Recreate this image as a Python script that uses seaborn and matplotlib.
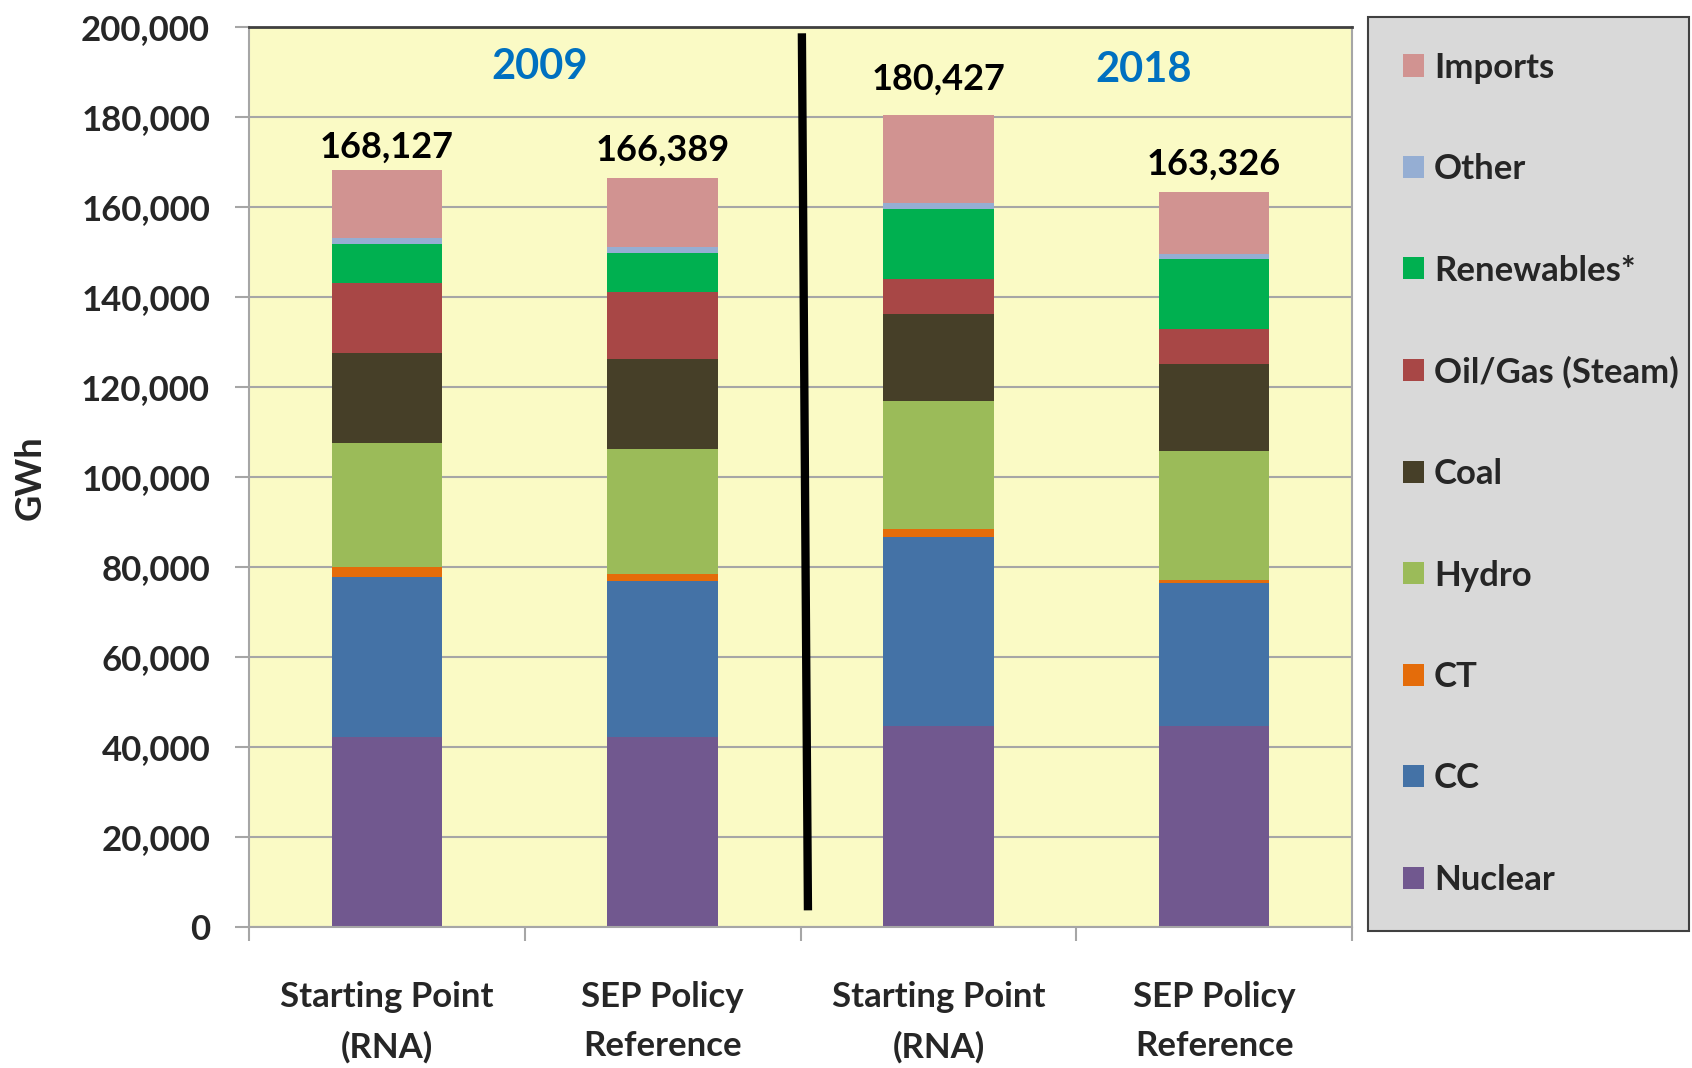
import numpy as np
import matplotlib
matplotlib.use("Agg")
import matplotlib.pyplot as plt
import seaborn as sns
from matplotlib.ticker import FuncFormatter

# ---------------- data ----------------
bar_keys = ["2009 Starting Point", "2009 SEP Policy", "2018 Starting Point", "2018 SEP Policy"]
categories = ["Starting Point\n(RNA)", "SEP Policy\nReference",
              "Starting Point\n(RNA)", "SEP Policy\nReference"]
years = ["2009", "2018"]
totals = [168127, 166389, 180427, 163326]

sources = ["Nuclear", "CC", "CT", "Hydro", "Coal", "Oil/Gas (Steam)",
           "Renewables*", "Other", "Imports"]
nuclear = [42200, 42200, 44600, 44600]
cc = [35600, 34600, 42100, 31800]
ct = [2100, 1700, 1800, 800]
hydro = [27600, 27700, 28300, 28500]
coal = [20100, 20100, 19400, 19300]
oil_gas = [15400, 14900, 7900, 7900]
renewables = [8700, 8600, 15500, 15500]
other = [1300, 1300, 1300, 1200]
imports = [15127, 15289, 19527, 13726]

series = [nuclear, cc, ct, hydro, coal, oil_gas, renewables, other, imports]
colors = ["#71588F", "#4472A6", "#E46C0A", "#9BBB59", "#463F28",
          "#A84746", "#00B050", "#95AED3", "#D19391"]

# ---------------- style ----------------
sns.set_theme(style="white")
plt.rcParams["font.family"] = ["Lato", "DejaVu Sans"]
plt.rcParams["font.weight"] = "bold"

W, H = 1692, 1068
fig = plt.figure(figsize=(W / 100, H / 100), dpi=100)
ax = fig.add_axes([249 / W, 1 - 927 / H, (1352 - 249) / W, (927 - 27) / H])
ax.set_facecolor("#FAFAC5")

bottom = np.zeros(len(bar_keys))
for name, vals, col in zip(sources, series, colors):
    sns.barplot(x=bar_keys, y=vals, order=bar_keys, color=col, saturation=1,
                width=0.4, errorbar=None, bottom=bottom, ax=ax, label=name,
                linewidth=0)
    bottom = bottom + np.array(vals)
if ax.get_legend() is not None:
    ax.get_legend().remove()

# axes
ax.set_xlim(-0.5, 3.5)
ax.set_ylim(0, 200000)
ax.set_yticks(np.arange(0, 200001, 20000))
ax.yaxis.set_major_formatter(FuncFormatter(lambda v, p: f"{int(v):,}"))
ax.yaxis.grid(True, color="#A6A6A6", lw=1.5)
ax.xaxis.grid(False)
ax.set_axisbelow(True)

ax.set_xticks([-0.5, 0.5, 1.5, 2.5, 3.5])
ax.set_xticklabels([])
ax.set_xticks(range(4), minor=True)
ax.set_xticklabels(categories, minor=True, fontsize=25, fontweight="bold",
                   linespacing=1.66, va="top")
ax.tick_params(axis="x", which="major", length=10, width=1.5, color="#A6A6A6",
               direction="out", bottom=True)
ax.tick_params(axis="x", which="minor", length=0, pad=39, bottom=True)
ax.tick_params(axis="y", which="major", length=10, width=1.5, color="#A6A6A6",
               direction="out", left=True, pad=18, labelsize=25)
for lab in ax.get_yticklabels():
    lab.set_fontweight("bold")
ax.set_xlabel("")
ax.set_ylabel("")

for side in ["left", "bottom", "right"]:
    ax.spines[side].set_color("#A6A6A6")
    ax.spines[side].set_linewidth(1.5)
ax.spines["top"].set_color("#404040")
ax.spines["top"].set_linewidth(2)

# totals
label_dy = [17, 20, 26, 20]
for i, (t, dy) in enumerate(zip(totals, label_dy)):
    ax.annotate(f"{t:,}", xy=(i, t), xytext=(0, dy), textcoords="offset points",
                ha="center", va="center", fontsize=26, fontweight="bold",
                color="black")

# year labels
ax.text(0.553, 191000, years[0], ha="center", va="center", fontsize=30,
        fontweight="bold", color="#0070C0")
ax.text(2.745, 190400, years[1], ha="center", va="center", fontsize=30,
        fontweight="bold", color="#0070C0")

# divider line
ax.plot([1.505, 1.527], [198600, 3700], color="black", lw=6,
        solid_capstyle="butt")

# y label
fig.text(30 / W, 1 - 478 / H, "GWh", rotation=90, ha="center", va="center",
         fontsize=26, fontweight="bold")

# legend
handles = list(ax.containers)[::-1]
labels = sources[::-1]
leg = fig.legend(handles, labels, loc="upper left",
                 bbox_to_anchor=(1368 / W, 1 - 17 / H, (1689 - 1368) / W, 0),
                 mode="expand", frameon=True, fancybox=False,
                 facecolor="#D9D9D9", edgecolor="#404040", framealpha=1,
                 handlelength=0.6, handleheight=0.6, handletextpad=0.3,
                 labelspacing=2.0, borderpad=1.0, borderaxespad=0,
                 prop={"family": ["Lato", "DejaVu Sans"], "weight": "bold",
                       "size": 25})
leg.get_frame().set_linewidth(1.5)

fig.savefig("out.png", dpi=100)
